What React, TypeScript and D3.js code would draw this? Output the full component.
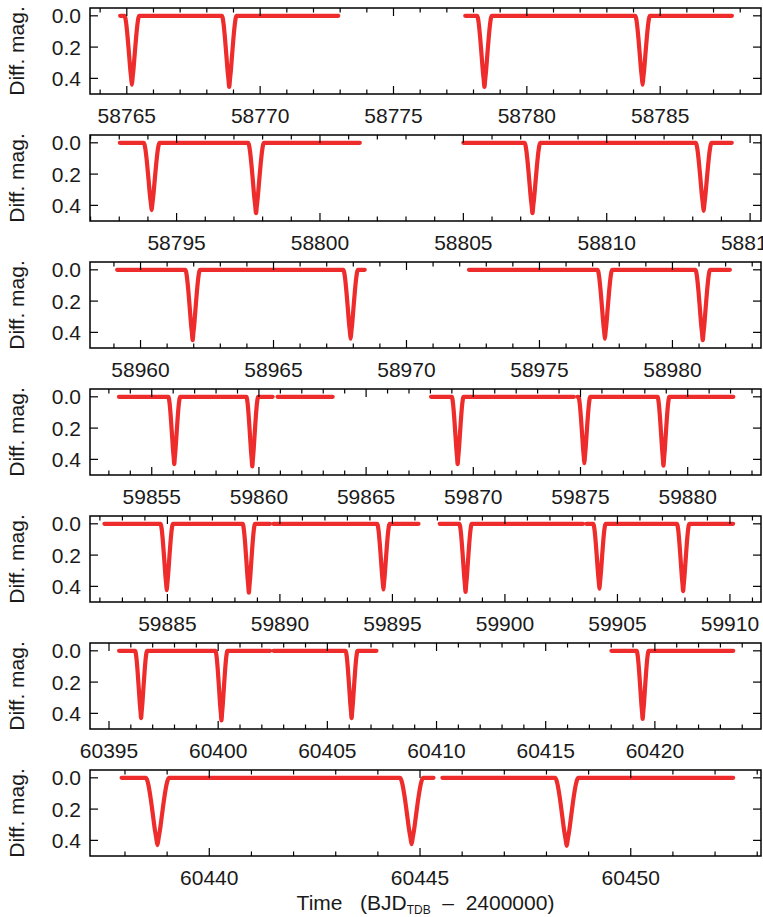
import React from "react";
import * as d3 from "d3";

// time range shown in each panel (BJD_TDB - 2400000)
const xDomains: [number, number][] = [
  [58763.62, 58788.78],
  [58791.98, 58815.38],
  [58958.1, 58983.33],
  [59852.12, 59883.42],
  [59881.56, 59911.38],
  [60394.13, 60424.86],
  [60437.17, 60453.09],
];

// continuous stretches of photometry in each panel
const segments: [number, number][][] = [
  [[58764.75, 58772.93], [58777.69, 58787.69]],
  [[58793.02, 58801.39], [58805.0, 58814.36]],
  [[58959.12, 58968.43], [58972.35, 58982.16]],
  [[59853.47, 59860.64], [59860.87, 59863.44], [59868.03, 59874.69], [59874.85, 59882.13]],
  [[59882.2, 59889.56], [59889.71, 59896.16], [59897.1, 59903.47], [59903.62, 59910.14]],
  [[60395.46, 60402.38], [60402.54, 60407.25], [60418.01, 60423.59]],
  [[60437.92, 60445.32], [60445.53, 60452.43]],
];

// times of minimum and their depths
const minimaTimes: number[][] = [
  [58765.19, 58768.84, 58778.41, 58784.34],
  [58794.13, 58797.77, 58807.41, 58813.38],
  [58961.96, 58967.9, 58977.46, 58981.14],
  [59856.05, 59859.69, 59869.27, 59875.18, 59878.87],
  [59884.97, 59888.62, 59894.6, 59898.25, 59904.2, 59907.92],
  [60396.47, 60400.15, 60406.11, 60419.44],
  [60438.77, 60444.8, 60448.48],
];
const minimaDepths: number[][] = [
  [0.44, 0.455, 0.455, 0.44],
  [0.43, 0.45, 0.45, 0.435],
  [0.45, 0.44, 0.44, 0.45],
  [0.43, 0.445, 0.43, 0.425, 0.44],
  [0.425, 0.44, 0.42, 0.435, 0.415, 0.43],
  [0.43, 0.445, 0.43, 0.435],
  [0.43, 0.425, 0.435],
];

// eclipse profile (offset in half-widths, fraction of depth)
const dipHalfWidth = 0.27;
const dipOffsets = [-1, -0.92, -0.8, -0.6, -0.4, -0.22, -0.1, 0, 0.1, 0.22, 0.4, 0.6, 0.8, 0.92, 1];
const dipShape = [0, 0.025, 0.1, 0.3, 0.55, 0.78, 0.9, 1, 0.9, 0.78, 0.55, 0.3, 0.1, 0.025, 0];

const yTicks = [0, 0.2, 0.4];
const yLabels = ["0.0", "0.2", "0.4"];

const W = 763;
const H = 917;
const left = 90;
const right = 761;
const firstTop = 8;
const step = 127;
const panelH = 86;
const red = "#ee2c2c";
const font = "'Liberation Sans', Arial, sans-serif";

function buildSegments(i: number) {
  return segments[i].map(([s, e]) => {
    const pts: [number, number][] = [[s, 0]];
    minimaTimes[i].forEach((t, j) => {
      if (t < s || t > e) return;
      dipOffsets.forEach((u, m) => {
        const x = t + u * dipHalfWidth;
        if (x > s && x < e) pts.push([x, dipShape[m] * minimaDepths[i][j]]);
      });
    });
    pts.push([e, 0]);
    pts.sort((a, b) => a[0] - b[0]);
    return pts;
  });
}

const Panel = ({ i }: { i: number }) => {
  const top = firstTop + i * step;
  const bottom = top + panelH;
  const x = d3.scaleLinear().domain(xDomains[i]).range([left, right]);
  const y = d3.scaleLinear().domain([-0.05, 0.5]).range([top, bottom]);
  const line = d3
    .line<[number, number]>()
    .x((d) => x(d[0]))
    .y((d) => y(d[1]))
    .curve(d3.curveMonotoneX);

  const [d0, d1] = xDomains[i];
  const days = d3.range(Math.ceil(d0), Math.floor(d1) + 1);

  return (
    <g>
      {buildSegments(i).map((pts, k) => (
        <path
          key={k}
          d={line(pts) || ""}
          fill="none"
          stroke={red}
          strokeWidth={4.2}
          strokeLinecap="round"
          strokeLinejoin="round"
        />
      ))}
      <rect
        x={left}
        y={top}
        width={right - left}
        height={panelH}
        fill="none"
        stroke="#000"
        strokeWidth={1.5}
      />
      {days.map((v) => {
        const major = v % 5 === 0;
        const len = major ? 8 : 4.5;
        const xv = x(v);
        return (
          <g key={v}>
            <line x1={xv} x2={xv} y1={bottom} y2={bottom - len} stroke="#000" strokeWidth={1.2} />
            <line x1={xv} x2={xv} y1={top} y2={top + len} stroke="#000" strokeWidth={1.2} />
            {major && (
              <text
                x={xv}
                y={bottom + 29}
                textAnchor="middle"
                fontFamily={font}
                fontSize={21}
                fill="#1a1a1a"
              >
                {v}
              </text>
            )}
          </g>
        );
      })}
      {yTicks.map((v, k) => (
        <g key={v}>
          <line x1={left} x2={left + 8} y1={y(v)} y2={y(v)} stroke="#000" strokeWidth={1.2} />
          <line x1={right} x2={right - 8} y1={y(v)} y2={y(v)} stroke="#000" strokeWidth={1.2} />
          <text
            x={81}
            y={y(v)}
            dy="0.36em"
            textAnchor="end"
            fontFamily={font}
            fontSize={21}
            fill="#1a1a1a"
          >
            {yLabels[k]}
          </text>
        </g>
      ))}
      <text
        transform={`translate(16,${(top + bottom) / 2}) rotate(-90)`}
        dy="0.36em"
        textAnchor="middle"
        fontFamily={font}
        fontSize={21}
        fill="#1a1a1a"
        style={{ whiteSpace: "pre" }}
      >
        Diff. mag.
      </text>
    </g>
  );
};

export default function App() {
  return (
    <svg
      width={W}
      height={H}
      style={{ position: "absolute", left: 0, top: 0, background: "#fff" }}
    >
      {xDomains.map((_, i) => (
        <Panel key={i} i={i} />
      ))}
      <text
        x={(left + right) / 2}
        y={910}
        textAnchor="middle"
        fontFamily={font}
        fontSize={21}
        fill="#1a1a1a"
        style={{ whiteSpace: "pre" }}
      >
        {"Time   (BJD"}
        <tspan fontSize={12} dy={4}>
          TDB
        </tspan>
        <tspan dy={-4}>{"  –  2400000)"}</tspan>
      </text>
    </svg>
  );
}
